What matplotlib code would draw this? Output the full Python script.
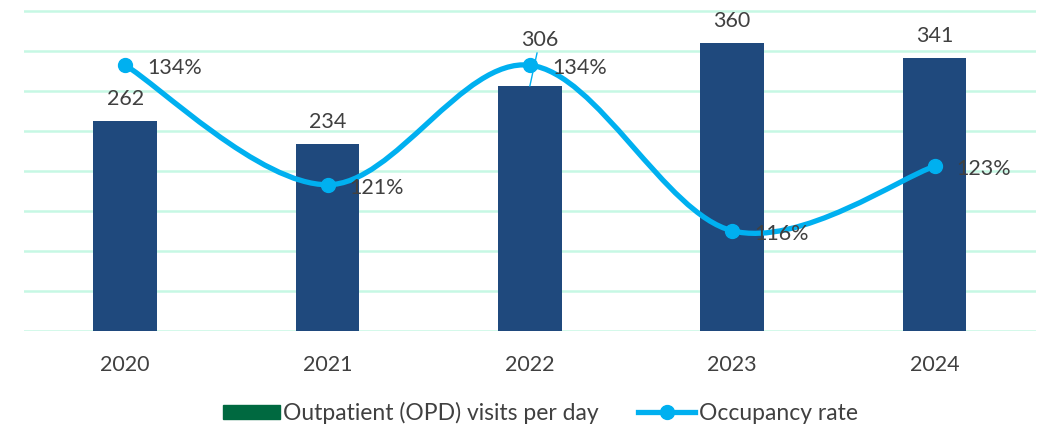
import numpy as np
import matplotlib.pyplot as plt
from matplotlib.path import Path
from matplotlib.patches import PathPatch, Patch
from matplotlib.lines import Line2D

plt.rcParams['font.family'] = ['Lato', 'DejaVu Sans']

years = ['2020', '2021', '2022', '2023', '2024']
opd_visits = [262, 234, 306, 360, 341]
occupancy = [134, 121, 134, 116, 123]

bar_color = '#1F497D'
line_color = '#00B0F0'
grid_color = '#C6F8E4'
text_color = '#404040'

fig = plt.figure(figsize=(10.43, 4.29), dpi=100)
ax = fig.add_axes([0.023, 0.2284, 0.970, 0.7483])
x = np.arange(len(years))

ax.bar(x, opd_visits, width=0.316, color=bar_color, zorder=2)
ax.set_ylim(0, 401)
ax.set_xlim(-0.5, len(years) - 0.5)
ax.set_yticks(np.arange(0, 401, 50))
ax.grid(axis='y', color=grid_color, linewidth=1.8, zorder=0)
ax.set_axisbelow(True)
ax.set_xticks(x)
ax.set_xticklabels(years, fontsize=15.5, color=text_color)
for s in ax.spines.values():
    s.set_visible(False)

# bar value labels
for i, v in enumerate(opd_visits):
    if i == 2:
        ax.annotate(str(v), (i, v), xytext=(10, 36), textcoords='offset pixels',
                    ha='center', va='bottom', fontsize=15.5, color=text_color,
                    arrowprops=dict(arrowstyle='-', color=line_color, lw=1,
                                    shrinkA=0, shrinkB=0))
    else:
        ax.annotate(str(v), (i, v), xytext=(0, 12), textcoords='offset pixels',
                    ha='center', va='bottom', fontsize=15.5, color=text_color)

# occupancy line on secondary axis
ax2 = ax.twinx()
ax2.set_ylim(105.1, 140)
ax2.set_axis_off()
ax.tick_params(left=False, labelleft=False, right=False, bottom=False)
ax.tick_params(axis='x', pad=14)

# smoothed curve (Catmull-Rom style bezier through the data points)
pts = np.column_stack([x, occupancy]).astype(float)
ext = np.vstack([pts[0], pts, pts[-1]])
verts = [pts[0]]
codes = [Path.MOVETO]
for k in range(1, len(ext) - 2):
    p0, p1, p2, p3 = ext[k - 1], ext[k], ext[k + 1], ext[k + 2]
    verts += [p1 + (p2 - p0) / 6, p2 - (p3 - p1) / 6, p2]
    codes += [Path.CURVE4] * 3
ax2.add_patch(PathPatch(Path(verts, codes), facecolor='none',
                        edgecolor=line_color, lw=3.8, zorder=3, capstyle='round'))
ax2.plot(x, occupancy, 'o', color=line_color, markersize=10, zorder=4)

for i, v in enumerate(occupancy):
    ax2.annotate(f'{v}%', (i, v), xytext=(22, -3), textcoords='offset pixels',
                 ha='left', va='center', fontsize=15.5, color=text_color, zorder=5)

handles = [Patch(color='#006940'),
           Line2D([], [], color=line_color, lw=3.8, marker='o', markersize=10)]
fig.legend(handles, ['Outpatient (OPD) visits per day', 'Occupancy rate'],
           loc='center', bbox_to_anchor=(0.518, 0.037), ncol=2, frameon=False,
           fontsize=16.5, handlelength=2.5, handleheight=0.6, columnspacing=1.7,
           handletextpad=0.15, labelcolor=text_color)

fig.savefig('out.png', dpi=100)
